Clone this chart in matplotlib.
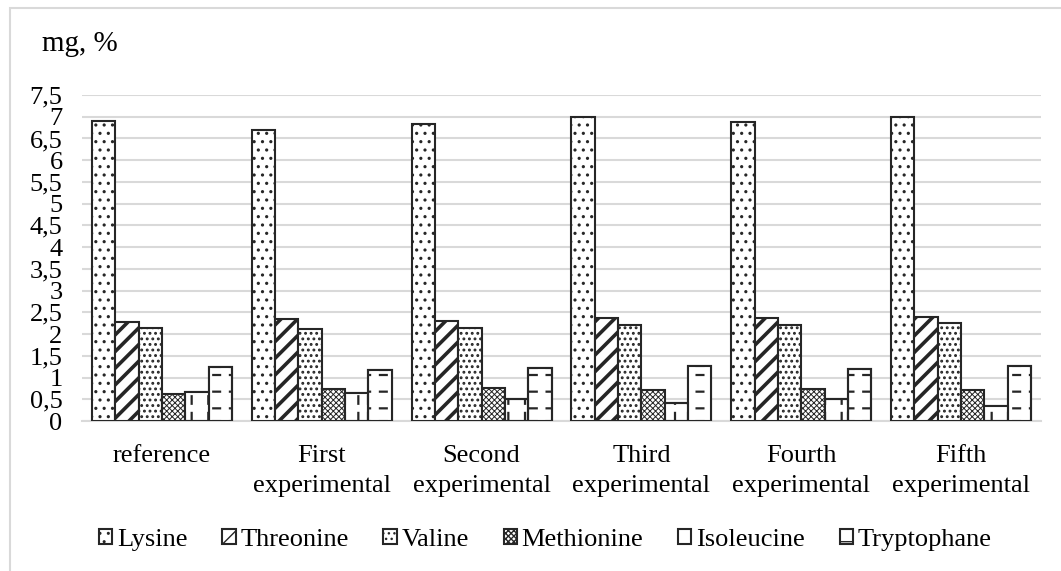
import matplotlib
matplotlib.use("Agg")
import matplotlib.pyplot as plt
import numpy as np
from matplotlib.patches import Rectangle

############################# DATA ##############################
groups = ["reference", "First\nexperimental", "Second\nexperimental",
          "Third\nexperimental", "Fourth\nexperimental", "Fifth\nexperimental"]
series = ["Lysine", "Threonine", "Valine", "Methionine", "Isoleucine", "Tryptophane"]
lysine = [6.90, 6.69, 6.84, 7.00, 6.87, 7.00]
threonine = [2.27, 2.34, 2.31, 2.36, 2.37, 2.40]
valine = [2.15, 2.12, 2.13, 2.21, 2.22, 2.25]
methionine = [0.62, 0.73, 0.77, 0.71, 0.74, 0.71]
isoleucine = [0.66, 0.65, 0.51, 0.41, 0.51, 0.34]
tryptophane = [1.25, 1.18, 1.21, 1.27, 1.20, 1.27]
yticks = [0, 0.5, 1, 1.5, 2, 2.5, 3, 3.5, 4, 4.5, 5, 5.5, 6, 6.5, 7, 7.5]

values = [lysine, threonine, valine, methionine, isoleucine, tryptophane]
hatches = ['..', '//', '...', 'xxxxxx', '|', '-']
hatch_lw = [1.1, 2.6, 1.3, 0.7, 1.6, 1.6]
# white hatch drawn over some bars to break lines into dashes
breakers = [None, None, None, None, '-', '|']
breaker_lw = [0, 0, 0, 0, 5.0, 5.5]

#################################### PLOT ##########################
plt.rcParams['font.family'] = ['Liberation Serif', 'DejaVu Serif']

W, H = 1061, 571
fig = plt.figure(figsize=(W / 100, H / 100), dpi=100)
ax = fig.add_axes([82 / W, 1 - 421 / H, (1041 - 82) / W, (421 - 95) / H])

edge = '#262626'
grid = '#d9d9d9'
x = np.arange(len(groups))
bw = 0.875 / len(series)
for i, (name, vals) in enumerate(zip(series, values)):
    pos = x - 0.4375 + bw * (i + 0.5)
    with plt.rc_context({'hatch.linewidth': hatch_lw[i]}):
        ax.bar(pos, vals, bw, color='white', edgecolor=edge, linewidth=1.5,
               hatch=hatches[i], label=name, zorder=3)
    if breakers[i]:
        with plt.rc_context({'hatch.linewidth': breaker_lw[i]}):
            ax.bar(pos, vals, bw, color='none', edgecolor='white', linewidth=0,
                   hatch=breakers[i], zorder=4)
        ax.bar(pos, vals, bw, color='none', edgecolor=edge, linewidth=1.5,
               zorder=5)

ax.set_xlim(-0.5, len(groups) - 0.5)
ax.set_ylim(0, 7.5)
ax.set_yticks(yticks)
ax.set_yticklabels([("%g" % t).replace('.', ',') for t in yticks], fontsize=19)
ax.set_xticks(x)
ax.set_xticklabels(groups, fontsize=19, linespacing=1.5)
ax.tick_params(axis='both', length=0)
ax.tick_params(axis='y', pad=14)
ax.tick_params(axis='x', pad=17)
ax.yaxis.grid(True, color=grid, linewidth=1.5, zorder=0)
ax.set_axisbelow(True)
for s in ['top', 'right', 'left']:
    ax.spines[s].set_visible(False)
ax.spines['bottom'].set_color(grid)
ax.spines['bottom'].set_linewidth(1.5)

fig.text(42 / W, 1 - 44 / H, "mg, %", fontsize=21, va='center', ha='left')

fig.legend(loc='center', bbox_to_anchor=(0.514, 0.054), ncol=6, frameon=False,
           fontsize=19, handlelength=0.5, handleheight=0.5, handletextpad=0.18,
           columnspacing=1.32)

# chart frame (only left and top edges are visible in the crop)
fig.add_artist(Rectangle((9.5 / W, -0.1), 1.2, 1.1 - 8 / H,
                         transform=fig.transFigure, fill=False,
                         edgecolor=grid, linewidth=1.5))

fig.savefig("out.png", dpi=100)
